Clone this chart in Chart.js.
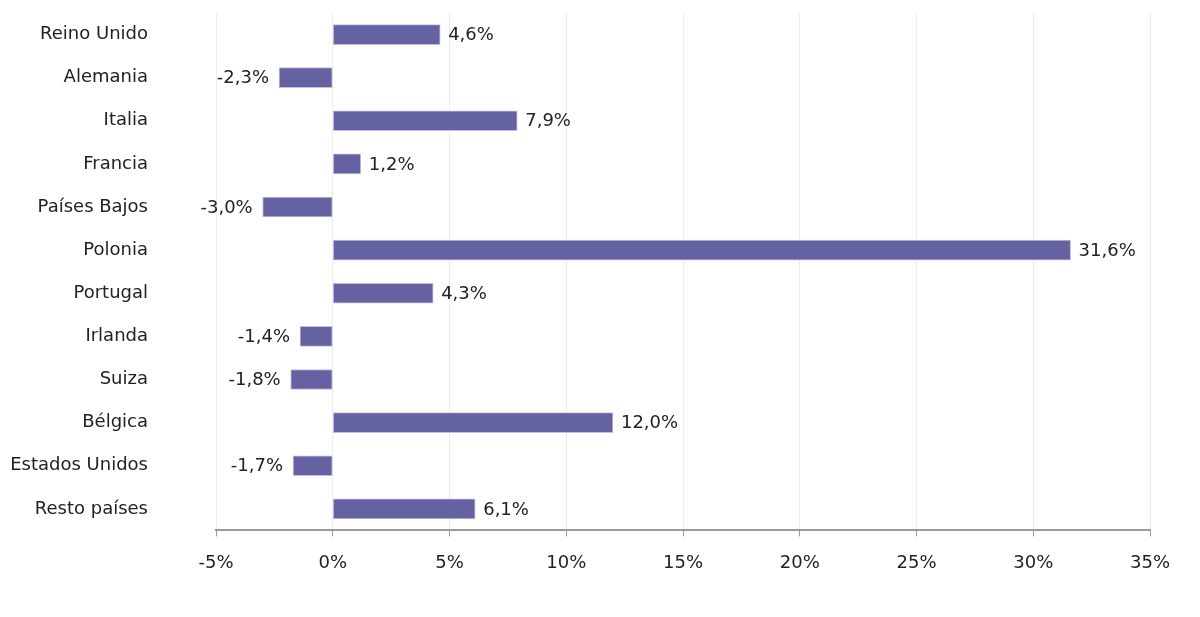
<!DOCTYPE html>
<html lang="es">
<head>
<meta charset="UTF-8">
<title>Variación por país</title>
<script src="https://cdn.jsdelivr.net/npm/chart.js"></script>
<style>
    html, body { margin: 0; padding: 0; background: #fff; }
    #wrap { width: 1200px; height: 617px; }
</style>
</head>
<body>
<div id="wrap"><canvas id="myChart"></canvas></div>
<script>
// datos
const paises = ['Reino Unido', 'Alemania', 'Italia', 'Francia', 'Países Bajos', 'Polonia',
                'Portugal', 'Irlanda', 'Suiza', 'Bélgica', 'Estados Unidos', 'Resto países'];
const variacion = [4.6, -2.3, 7.9, 1.2, -3.0, 31.6, 4.3, -1.4, -1.8, 12.0, -1.7, 6.1];
const ejeMin = -5;
const ejeMax = 35;
const ejePaso = 5;

const fuente = "'DejaVu Sans', sans-serif";

// etiquetas de valor al final de cada barra
const etiquetas = {
    id: 'etiquetas',
    afterDatasetsDraw(chart) {
        const ctx = chart.ctx;
        const meta = chart.getDatasetMeta(0);
        ctx.save();
        ctx.font = '18px ' + fuente;
        ctx.fillStyle = '#222';
        ctx.textBaseline = 'middle';
        meta.data.forEach((bar, i) => {
            const v = variacion[i];
            const txt = v.toFixed(1).replace('.', ',') + '%';
            if (v >= 0) {
                ctx.textAlign = 'left';
                ctx.fillText(txt, bar.x + 8, bar.y + 1);
            } else {
                ctx.textAlign = 'right';
                ctx.fillText(txt, bar.x - 10, bar.y + 1);
            }
        });
        ctx.restore();
    }
};

new Chart(document.getElementById('myChart'), {
    type: 'bar',
    data: {
        labels: paises,
        datasets: [{
            data: variacion,
            backgroundColor: '#6462a0',
            borderColor: '#c9bbe6',
            borderWidth: 1,
            borderSkipped: false,
            barThickness: 20
        }]
    },
    options: {
        indexAxis: 'y',
        responsive: true,
        maintainAspectRatio: false,
        animation: false,
        layout: { padding: { left: 0, right: 50, top: 13, bottom: 27 } },
        plugins: {
            legend: { display: false },
            tooltip: { enabled: false }
        },
        scales: {
            x: {
                min: ejeMin,
                max: ejeMax,
                ticks: {
                    stepSize: ejePaso,
                    callback: v => v + '%',
                    color: '#222',
                    font: { family: fuente, size: 18 },
                    padding: 16
                },
                grid: {
                    color: '#ececec',
                    tickColor: '#999',
                    tickLength: 6
                },
                border: { color: '#999', width: 2 }
            },
            y: {
                ticks: {
                    color: '#222',
                    font: { family: fuente, size: 18 },
                    padding: 60
                },
                grid: { display: false, tickLength: 8 },
                border: { display: false },
                afterFit(scale) {
                    // ancho fijo del eje de categorías y sin margen extra arriba/abajo
                    scale.width = 216;
                    scale.paddingTop = 11;
                    scale.paddingBottom = 11;
                }
            }
        }
    },
    plugins: [etiquetas]
});
</script>
</body>
</html>
